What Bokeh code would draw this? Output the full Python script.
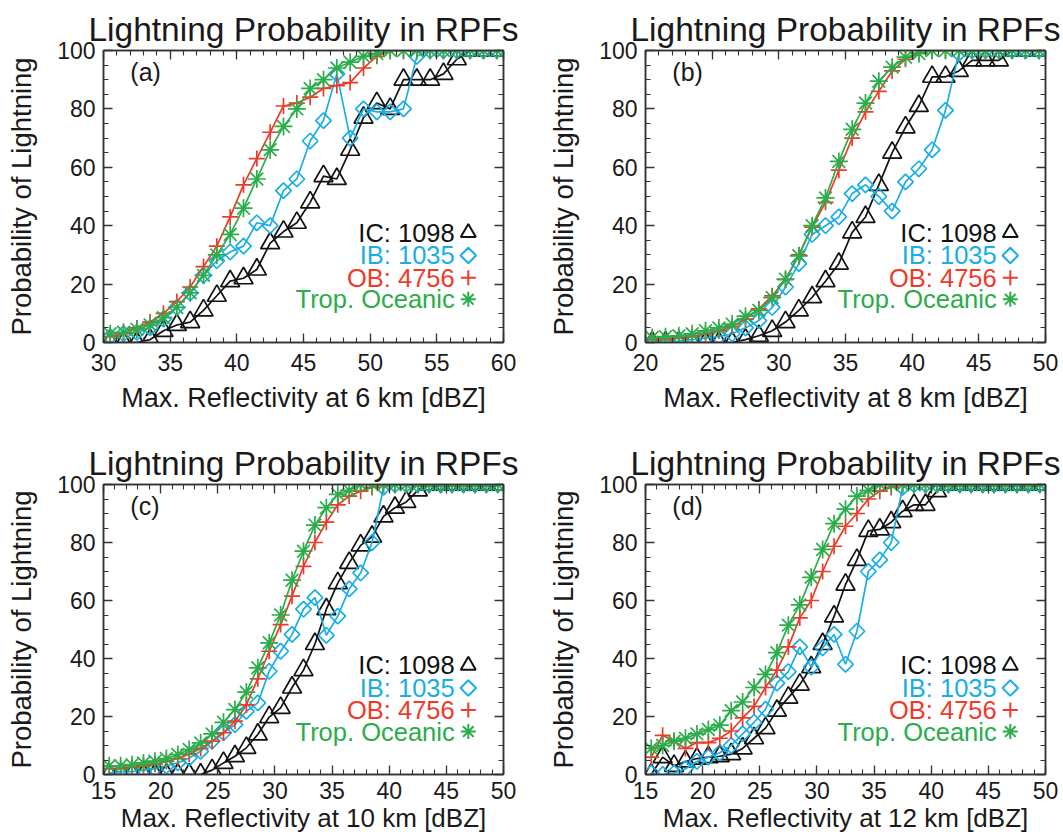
from bokeh.plotting import figure
from bokeh.models import LinearAxis, SingleIntervalTicker, Range1d, Label
from bokeh.layouts import column, row
from bokeh.embed import file_html
from bokeh.resources import INLINE
import numpy as np

# ---------------- data ----------------
x_a = list(np.arange(30.5, 60.0, 1.0))
x_b = list(np.arange(20.5, 50.0, 1.0))
x_c = list(np.arange(15.5, 50.0, 1.0))
x_d = list(np.arange(15.5, 50.0, 1.0))

ic_a = [0, 0, 0, 1, 4, 6, 7, 11, 16, 21, 22, 25, 34, 38, 41, 48, 57, 56, 66, 77,
        82, 80, 90, 90, 90, 92, 97, 100, 100, 100]
ib_a = [2, 3, 3.5, 5, 8, 12, 17, 23, 28, 31, 33, 41, 40, 52, 56, 69, 76, 92, 70, 80,
        79, 79, 80, 98, 100, 100, 100, 100, 100, 100]
ob_a = [2, 3, 5, 7, 10, 14, 19, 26, 33, 43, 54, 63, 72, 81, 82, 84, 87, 88, 89, 94,
        98, 100, 100, 100, 100, 100, 100, 100, 100, 100]
to_a = [3, 3.5, 4.5, 6, 8.5, 12, 17, 23, 30, 37, 46, 56, 66, 74, 80, 87, 90, 94, 96, 98,
        99, 100, 100, 100, 100, 100, 100, 100, 100, 100]

ic_b = [0, 0, 0, 0, 0, 0, 0, 1, 2.3, 4, 7, 11, 15.5, 21, 27, 37.7, 43, 54, 65, 73.7,
        81, 91, 91, 93, 96.6, 96.6, 96.6, 100, 100, 100]
ib_b = [0, 0, 0.5, 1, 1.5, 2, 3, 5, 7.5, 12, 19, 27, 37, 40, 43, 51, 54, 50, 45, 55,
        59.5, 66, 79.5, 99, 100, 100, 100, 100, 100, 100]
ob_b = [1, 1, 1.5, 2, 3, 4, 5.5, 8, 11.5, 16, 21.5, 30, 39.5, 48, 59, 70, 79, 86, 93, 97,
        99, 100, 100, 100, 100, 100, 100, 100, 100, 100]
to_b = [1.7, 2, 2.3, 3, 4, 5, 6.3, 9, 11, 15.4, 21.7, 29.7, 40, 49.5, 62, 73, 82, 89.5, 94.3, 97.7,
        99, 100, 100, 100, 100, 100, 100, 100, 100, 100]

ic_c = [0, 0, 0, 0, 0, 0, 0, 0, 0, 1.5, 4, 6.3, 9.2, 13.8, 19.8, 23, 30, 36, 45, 57,
        66, 73, 79, 82, 89, 92, 94, 98, 100, 100, 100, 100, 100, 100, 100]
ib_c = [0.5, 1, 1, 1.5, 2, 3, 4, 5.7, 8, 11.5, 14.4, 17.2, 21.8, 24.7, 35.6, 42.5, 48.3, 57, 61, 48,
        54.6, 64, 69.5, 80, 99, 100, 100, 100, 100, 100, 100, 100, 100, 100, 100]
ob_c = [2, 2, 2.5, 3, 3.5, 4.5, 5.5, 7, 9, 11.5, 14.4, 18.4, 24, 33, 42.5, 51.7, 61.5, 71.8, 80, 87,
        93, 96, 97.7, 99, 100, 100, 100, 100, 100, 100, 100, 100, 100, 100, 100]
to_c = [3, 3, 3.4, 4, 4.6, 5.5, 6.9, 8.6, 10.9, 14, 18, 22.4, 28.4, 36.8, 45.4, 55, 67, 77, 86, 92,
        96.6, 98, 100, 100, 100, 100, 100, 100, 100, 100, 100, 100, 100, 100, 100]

ic_d = [0, 6, 3, 4.5, 5.5, 6, 6.3, 7, 9, 12.5, 16, 22, 26.5, 31, 37, 45, 54.5, 65.5, 74, 84,
        84.5, 87, 90.8, 93, 93, 97.7, 100, 100, 100, 100, 100, 100, 100, 100, 100]
ib_d = [0.5, 0, 0.5, 2, 4.5, 6, 7.5, 10, 14, 18, 22.5, 31.5, 35.5, 44, 37, 43.7, 48.3, 38, 49.4, 70,
        74, 80, 99, 100, 100, 100, 100, 100, 100, 100, 100, 100, 100, 100, 100]
ob_d = [6, 13.5, 11.5, 9, 11, 11, 12.5, 15, 19.5, 23.5, 30, 36, 44, 54, 60, 70, 78.7, 85.6, 90, 95,
        97.7, 99, 100, 100, 100, 100, 100, 100, 100, 100, 100, 100, 100, 100, 100]
to_d = [9, 10, 11.5, 12.5, 14, 15.5, 17, 22, 25, 30, 34.5, 42, 51.5, 58.5, 68, 77.6, 86.5, 91.5, 96, 98,
        100, 100, 100, 100, 100, 100, 100, 100, 100, 100, 100, 100, 100, 100, 100]

legend_labels = ["IC: 1098", "IB: 1035", "OB: 4756", "Trop. Oceanic"]
panel_letters = ["(a)", "(b)", "(c)", "(d)"]
x_titles = ["Max. Reflectivity at 6 km [dBZ]", "Max. Reflectivity at 8 km [dBZ]",
            "Max. Reflectivity at 10 km [dBZ]", "Max. Reflectivity at 12 km [dBZ]"]
x_ranges = [(30, 60), (20, 50), (15, 50), (15, 50)]

# ---------------- style ----------------
FONT = "Liberation Sans"
TXT = "#1a1a1a"
BLACK = "#111111"
BLUE = "#1aaee6"
RED = "#ee3a2a"
GREEN = "#2aad4a"
AX = "#333333"


def style_axis(ax, ticker, labels=True, tick_font="23px", standoff=8):
    ax.ticker = ticker
    ax.major_tick_in = 9
    ax.major_tick_out = 0
    ax.minor_tick_in = 5
    ax.minor_tick_out = 0
    ax.axis_line_color = AX
    ax.axis_line_width = 1.5
    ax.major_tick_line_color = AX
    ax.minor_tick_line_color = AX
    ax.major_tick_line_width = 1.3
    ax.minor_tick_line_width = 1.1
    if labels:
        ax.major_label_text_font = FONT
        ax.major_label_text_font_size = tick_font
        ax.major_label_text_color = TXT
        ax.major_label_standoff = standoff
    else:
        ax.major_label_text_font_size = "1px"
        ax.major_label_text_color = None
        ax.major_label_standoff = 0


def make_panel(idx, xs, series, bl, bt, br, bb, fh, x_lab_standoff, tick_standoff, xlab_font):
    x0, x1 = x_ranges[idx]
    p = figure(frame_width=400, frame_height=fh, output_backend="svg", toolbar_location=None,
               x_range=Range1d(x0, x1), y_range=Range1d(0, 100),
               min_border_left=bl, min_border_top=bt, min_border_right=br, min_border_bottom=bb)
    p.background_fill_color = "white"
    p.border_fill_color = "white"
    p.outline_line_color = AX
    p.outline_line_width = 1.5
    p.xgrid.visible = False
    p.ygrid.visible = False

    p.title.text = "Lightning Probability in RPFs"
    p.title.text_font = FONT
    p.title.text_font_size = "33.5px"
    p.title.text_font_style = "normal"
    p.title.text_color = TXT
    p.title.align = "center"
    p.title.standoff = 6

    style_axis(p.xaxis[0], SingleIntervalTicker(interval=5, num_minor_ticks=5), standoff=tick_standoff)
    style_axis(p.yaxis[0], SingleIntervalTicker(interval=20, num_minor_ticks=4), standoff=8)
    p.xaxis.axis_label = x_titles[idx]
    p.yaxis.axis_label = "Probability of Lightning"
    for ax, so, fs in ((p.xaxis[0], x_lab_standoff, xlab_font), (p.yaxis[0], 17, "27.5px")):
        ax.axis_label_text_font = FONT
        ax.axis_label_text_font_size = fs
        ax.axis_label_text_font_style = "normal"
        ax.axis_label_text_color = TXT
        ax.axis_label_standoff = so

    top = LinearAxis()
    style_axis(top, SingleIntervalTicker(interval=5, num_minor_ticks=5), labels=False)
    p.add_layout(top, "above")
    right = LinearAxis()
    style_axis(right, SingleIntervalTicker(interval=20, num_minor_ticks=4), labels=False)
    p.add_layout(right, "right")

    ic, ib, ob, to = series
    lw = 1.7
    p.line(xs, ic, line_color=BLACK, line_width=lw)
    p.scatter(xs, ic, marker="triangle", size=19, fill_color=None, line_color=BLACK, line_width=lw)
    p.line(xs, ib, line_color=BLUE, line_width=lw)
    p.scatter(xs, ib, marker="square", angle=np.pi / 4, size=11, fill_color=None,
              line_color=BLUE, line_width=lw)
    p.line(xs, ob, line_color=RED, line_width=lw)
    p.scatter(xs, ob, marker="cross", size=16, line_color=RED, line_width=lw)
    p.line(xs, to, line_color=GREEN, line_width=lw)
    p.scatter(xs, to, marker="asterisk", size=18, line_color=GREEN, line_width=lw)

    # panel letter
    p.add_layout(Label(x=x0 + 0.067 * (x1 - x0), y=92.5, text=panel_letters[idx],
                       text_font=FONT, text_font_size="25px", text_color=TXT,
                       text_baseline="middle", text_align="left"))
    # legend
    cols = [BLACK, BLUE, RED, GREEN]
    rows_y = [37.6, 29.8, 22.2, 14.8]
    xt = x0 + 0.878 * (x1 - x0)
    xm = x0 + 0.912 * (x1 - x0)
    for lab, col, yy in zip(legend_labels, cols, rows_y):
        p.add_layout(Label(x=xt, y=yy, text=lab, text_font=FONT, text_font_size="25.5px",
                           text_color=col, text_baseline="middle", text_align="right"))
    p.scatter([xm], [rows_y[0]], marker="triangle", size=15, fill_color=None, line_color=BLACK, line_width=2)
    p.scatter([xm], [rows_y[1]], marker="square", angle=np.pi / 4, size=11, fill_color=None,
              line_color=BLUE, line_width=2)
    p.scatter([xm], [rows_y[2]], marker="cross", size=15, line_color=RED, line_width=2)
    p.scatter([xm], [rows_y[3]], marker="asterisk", size=15, line_color=GREEN, line_width=2)
    return p


pa = make_panel(0, x_a, (ic_a, ib_a, ob_a, to_a), 103, 50, 28, 92, 292, 9, 11, "27px")
pb = make_panel(1, x_b, (ic_b, ib_b, ob_b, to_b), 114, 50, 18, 92, 292, 9, 11, "27px")
pc = make_panel(2, x_c, (ic_c, ib_c, ob_c, to_c), 103, 50, 28, 64, 290, 1, 7, "26px")
pd = make_panel(3, x_d, (ic_d, ib_d, ob_d, to_d), 114, 50, 18, 64, 290, 1, 7, "26px")

layout = column(row(pa, pb), row(pc, pd))
open("out.html", "w").write(file_html(layout, INLINE))
